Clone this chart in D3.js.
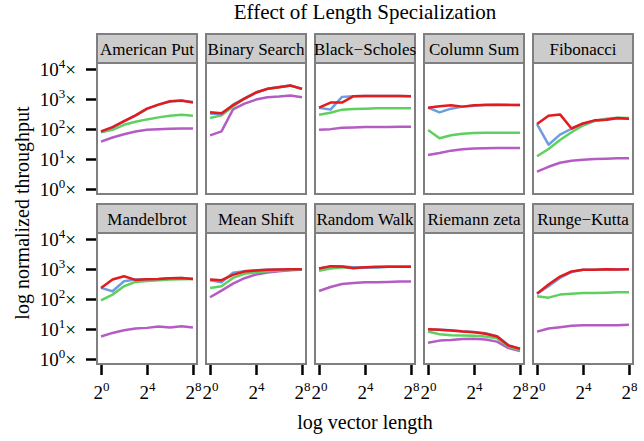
<!DOCTYPE html>
<html>
<head>
<meta charset="utf-8">
<script src="https://cdn.jsdelivr.net/npm/d3@7"></script>
<style>
body { margin: 0; background: #fff; }
svg, svg text { font-family: "Liberation Serif", "Times New Roman", serif; }
</style>
</head>
<body>
<script>
// data, one value per vector length
var benchmarks = ["American Put", "Binary Search", "Black\u2212Scholes", "Column Sum", "Fibonacci",
                  "Mandelbrot", "Mean Shift", "Random Walk", "Riemann zeta", "Runge\u2212Kutta"];
var vectorLengths = [1, 2, 4, 8, 16, 32, 64, 128, 256];
var yTicks = [1, 10, 100, 1000, 10000];
var xTicks = [1, 16, 256];

var purpleSeries = [
    [38, 52, 67, 83, 94, 99, 102, 104, 104],
    [61, 83, 453, 703, 957, 1146, 1207, 1303, 1146],
    [94, 99, 110, 113, 116, 116, 116, 119, 119],
    [13.6, 15.9, 19.0, 21.1, 22.2, 22.8, 23.4, 23.4, 23.4],
    [3.8, 5.5, 7.5, 8.8, 9.5, 10, 10.2, 10.5, 10.5],
    [5.6, 7.4, 9.1, 10.4, 10.9, 12.1, 11.2, 12.4, 11.2],
    [114, 190, 327, 493, 654, 764, 846, 915, 962],
    [185, 252, 318, 344, 362, 362, 371, 381, 381],
    [3.5, 4.1, 4.3, 4.6, 4.7, 4.5, 3.8, 2.3, 1.85],
    [8.2, 10.4, 11.5, 12.8, 13.4, 13.4, 13.4, 13.4, 13.8]
];
var greenSeries = [
    [77, 94, 138, 175, 209, 244, 277, 300, 277],
    [232, 285, 560, 1035, 1640, 2180, 2480, 2800, 2180],
    [300, 350, 442, 465, 477, 490, 490, 490, 490],
    [92, 49, 62, 69, 73, 75, 75, 75, 75],
    [12.3, 21.6, 43, 78, 131, 184, 220, 238, 232],
    [90, 140, 266, 371, 401, 422, 445, 456, 468],
    [234, 266, 505, 689, 783, 846, 891, 938, 962],
    [869, 1040, 1122, 1122, 1151, 1151, 1182, 1182, 1182],
    [8.2, 6.7, 6.2, 6.1, 5.9, 5.6, 4.9, 2.6, 2.0],
    [123, 111, 140, 151, 159, 159, 163, 167, 167]
];
var blueSeries = [
    [80, 112, 180, 280, 470, 650, 830, 880, 790],
    [330, 310, 650, 1050, 1650, 2200, 2500, 2800, 2200],
    [515, 442, 1177, 1239, 1270, 1270, 1270, 1260, 1230],
    [515, 359, 477, 557, 600, 640, 660, 640, 634],
    [146, 30, 65, 102, 150, 190, 204, 230, 220],
    [234, 181, 391, 445, 456, 468, 493, 505, 468],
    [422, 362, 745, 850, 900, 940, 962, 986, 986],
    [1040, 1200, 1213, 1150, 1100, 1120, 1182, 1182, 1182],
    [9.9, 9.5, 9.0, 8.4, 8.0, 7.2, 5.8, 2.9, 2.2],
    [151, 266, 505, 800, 938, 938, 986, 962, 986]
];
var redSeries = [
    [83, 116, 184, 285, 477, 650, 841, 885, 759],
    [359, 332, 618, 1035, 1646, 2183, 2484, 2824, 2183],
    [515, 759, 759, 1239, 1270, 1270, 1270, 1260, 1230],
    [515, 571, 618, 557, 618, 634, 634, 634, 634],
    [146, 277, 307, 104, 153, 194, 204, 232, 220],
    [234, 445, 575, 433, 456, 468, 493, 505, 468],
    [445, 422, 637, 824, 891, 938, 962, 986, 986],
    [1040, 1245, 1213, 1067, 1151, 1182, 1182, 1182, 1182],
    [9.9, 9.4, 8.9, 8.2, 7.8, 6.9, 5.6, 2.8, 2.2],
    [151, 302, 561, 825, 938, 938, 986, 962, 986]
];

// drawing order: red ends up on top
var series = [
    {values: purpleSeries, color: "#b45cc4"},
    {values: greenSeries,  color: "#5fd060"},
    {values: blueSeries,   color: "#6b9de0"},
    {values: redSeries,    color: "#e41a1c"}
];

var width = 644, height = 441;
var panelLeft = 97, panelTop = 63;
var panelW = 100, panelH = 131, gapX = 9;
var stripH = 29, rowStep = 170;
var serif = "'Liberation Serif', 'Times New Roman', serif";

var svg = d3.select("body").append("svg")
    .attr("width", width)
    .attr("height", height);

var x = d3.scaleLog().base(2)
    .domain([Math.pow(2, -0.35), Math.pow(2, 8.35)])
    .range([0, panelW]);

var y = d3.scaleLog()
    .domain([Math.pow(10, -0.1667), Math.pow(10, 4.2)])
    .range([panelH, 0]);

var line = d3.line()
    .x(function(d, i) { return x(vectorLengths[i]); })
    .y(function(d) { return y(d); });

benchmarks.forEach(function(name, k) {
    var col = k % 5, row = Math.floor(k / 5);
    var px = panelLeft + col * (panelW + gapX);
    var py = panelTop + row * rowStep;

    var g = svg.append("g")
        .attr("transform", "translate(" + px + "," + py + ")");

    // strip
    g.append("rect")
        .attr("x", 0).attr("y", -stripH)
        .attr("width", panelW).attr("height", stripH)
        .style("fill", "#cccccc")
        .style("stroke", "#7f7f7f")
        .style("stroke-width", 2);

    g.append("text")
        .attr("x", panelW / 2)
        .attr("y", -8)
        .attr("text-anchor", "middle")
        .style("font-size", "17px")
        .text(name);

    g.append("rect")
        .attr("width", panelW).attr("height", panelH)
        .style("fill", "#fff");

    series.forEach(function(s) {
        g.append("path")
            .datum(s.values[k])
            .attr("d", line)
            .style("fill", "none")
            .style("stroke", s.color)
            .style("stroke-width", 2.5)
            .style("stroke-linejoin", "round");
    });

    g.append("rect")
        .attr("width", panelW).attr("height", panelH)
        .style("fill", "none")
        .style("stroke", "#7f7f7f")
        .style("stroke-width", 2);

    if (col === 0) {
        var ya = g.append("g")
            .attr("transform", "translate(-1,0)")
            .call(d3.axisLeft(y).tickValues(yTicks).tickSize(10).tickPadding(10).tickFormat(""));
        ya.attr("font-family", null).attr("font-size", null);
        ya.select(".domain").remove();
        ya.selectAll(".tick line").style("stroke", "#000").style("stroke-width", 2.5);
        ya.selectAll(".tick text").each(function(d) {
            var t = d3.select(this)
                .style("font-family", serif)
                .style("font-size", "19px")
                .attr("fill", "#000")
                .attr("dy", "0.36em");
            t.text("10");
            t.append("tspan").attr("dy", -8).style("font-size", "13px")
                .text(Math.round(Math.log10(d)));
            t.append("tspan").attr("dy", 8).text("\u00d7");
        });
    }

    if (row === 1) {
        var xa = g.append("g")
            .attr("transform", "translate(0," + (panelH + 1) + ")")
            .call(d3.axisBottom(x).tickValues(xTicks).tickSize(10).tickPadding(5).tickFormat(""));
        xa.attr("font-family", null).attr("font-size", null);
        xa.select(".domain").remove();
        xa.selectAll(".tick line").style("stroke", "#000").style("stroke-width", 2.5);
        xa.selectAll(".tick text").each(function(d) {
            var t = d3.select(this)
                .style("font-family", serif)
                .style("font-size", "19px")
                .attr("fill", "#000")
                .attr("dy", "1em")
                .attr("text-anchor", "middle");
            t.text("2");
            t.append("tspan").attr("dy", -8).style("font-size", "13px")
                .text(Math.round(Math.log2(d)));
        });
    }
});

svg.append("text")
    .attr("x", 365)
    .attr("y", 19)
    .attr("text-anchor", "middle")
    .style("font-size", "21px")
    .text("Effect of Length Specialization");

svg.append("text")
    .attr("x", 365)
    .attr("y", 429)
    .attr("text-anchor", "middle")
    .style("font-size", "20px")
    .text("log vector length");

svg.append("text")
    .attr("transform", "rotate(-90)")
    .attr("x", -213)
    .attr("y", 29)
    .attr("text-anchor", "middle")
    .style("font-size", "20px")
    .text("log normalized throughput");
</script>
</body>
</html>
